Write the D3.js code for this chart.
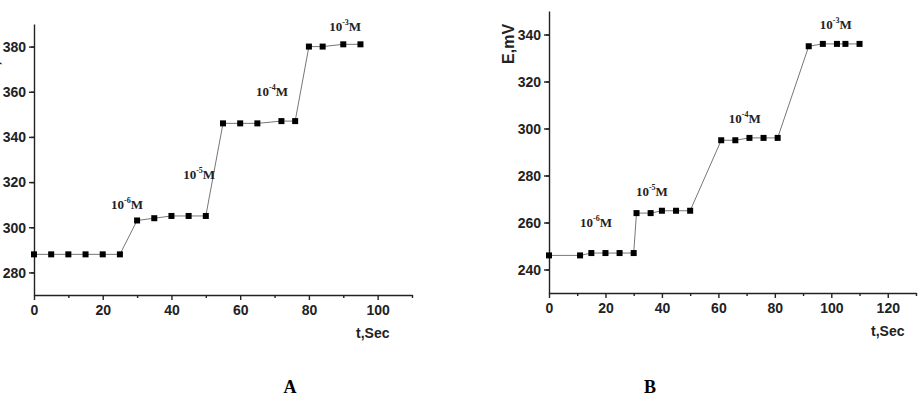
<!DOCTYPE html>
<html>
<head>
<meta charset="utf-8">
<script src="https://cdn.jsdelivr.net/npm/d3@7"></script>
<style>
  body { margin: 0; background: #fff; }
  svg { display: block; }
  .tick text { font-family: "Liberation Sans Narrow", "Arial Narrow", "Liberation Sans", Arial, sans-serif; font-weight: bold; font-size: 14px; fill: #222; }
  .axis-title { font-family: "Liberation Sans", Arial, sans-serif; font-weight: bold; font-size: 14px; fill: #222; }
  .axis-title.y { font-size: 16px; }
  .conc { font-family: "Liberation Serif", "Times New Roman", serif; font-weight: bold; font-size: 13px; fill: #222; }
  .panel-letter { font-family: "Liberation Serif", "Times New Roman", serif; font-weight: bold; font-size: 18px; fill: #000; }
</style>
</head>
<body>
<div id="chart"></div>
<script>
// Panel A data (time in s, potential in mV)
const timeA = [0, 5, 10, 15, 20, 25, 30, 35, 40, 45, 50, 55, 60, 65, 72, 76, 80, 84, 90, 95];
const potentialA = [288, 288, 288, 288, 288, 288, 303, 304, 305, 305, 305, 346, 346, 346, 347, 347, 380, 380, 381, 381];

// Panel B data
const timeB = [0, 11, 15, 20, 25, 30, 31, 36, 40, 45, 50, 61, 66, 71, 76, 81, 92, 97, 102, 105, 110];
const potentialB = [246, 246, 247, 247, 247, 247, 264, 264, 265, 265, 265, 295, 295, 296, 296, 296, 335, 336, 336, 336, 336];

// Concentration annotations: exponent, anchor time, anchor potential
const concExp = ["-6", "-5", "-4", "-3"];
const concTimeA = [22.4, 43.4, 64.6, 85.9];
const concPotA = [308, 321.5, 358, 387];
const concTimeB = [11, 30.8, 63.7, 95.9];
const concPotB = [258, 271.2, 302.4, 342.5];

const width = 918;
const height = 408;

const svg = d3.select("#chart")
    .append("svg")
    .attr("width", width)
    .attr("height", height);

function drawPanel(p) {
    const x = d3.scaleLinear().domain(p.xDomain).range(p.xRange);
    const y = d3.scaleLinear().domain(p.yDomain).range(p.yRange);
    const g = svg.append("g");

    // minor ticks first (no labels)
    g.append("g")
        .attr("transform", `translate(0,${p.yRange[0]})`)
        .call(d3.axisBottom(x).tickValues(d3.range(p.xDomain[0] + 10, p.xDomain[1] + 1, 20)).tickSize(3).tickFormat(""))
        .call(a => a.select(".domain").remove());
    g.append("g")
        .attr("transform", `translate(${p.xRange[0]},0)`)
        .call(d3.axisLeft(y).tickValues(d3.range(p.yDomain[0] + 10, p.yDomain[1] + 1, 20)).tickSize(3).tickFormat(""))
        .call(a => a.select(".domain").remove());

    // major axes
    const xAxis = g.append("g")
        .attr("transform", `translate(0,${p.yRange[0]})`)
        .call(d3.axisBottom(x).tickValues(d3.range(p.xDomain[0], p.xDomain[1] + 1, 20)).tickSize(5).tickSizeOuter(0).tickPadding(4));
    const yAxis = g.append("g")
        .attr("transform", `translate(${p.xRange[0]},0)`)
        .call(d3.axisLeft(y).tickValues(d3.range(p.yDomain[0] + 10, p.yDomain[1], 20)).tickSize(5).tickSizeOuter(0).tickPadding(3));
    g.selectAll(".domain, .tick line").attr("stroke", "#222").attr("stroke-width", 1.4);
    g.selectAll(".tick text").attr("dy", null);
    xAxis.selectAll(".tick text").attr("dy", "0.75em");
    yAxis.selectAll(".tick text").attr("dy", "0.35em");

    // axis titles
    g.append("text")
        .attr("class", "axis-title")
        .attr("x", p.xRange[0] + 322)
        .attr("y", p.yRange[0] + 43)
        .text("t,Sec");
    g.append("text")
        .attr("class", "axis-title y")
        .attr("text-anchor", "middle")
        .attr("transform", `translate(${p.xRange[0] - 35},${y(p.yTitleAt)}) rotate(-90)`)
        .text("E,mV");

    // connecting line
    const pts = p.t.map((t, i) => [t, p.e[i]]);
    g.append("path")
        .datum(pts)
        .attr("fill", "none")
        .attr("stroke", "#777")
        .attr("stroke-width", 1)
        .attr("d", d3.line().x(d => x(d[0])).y(d => y(d[1])));

    // square markers
    const s = 6;
    g.selectAll(".pt")
        .data(pts)
        .enter()
        .append("rect")
        .attr("class", "pt")
        .attr("x", d => x(d[0]) - s / 2)
        .attr("y", d => y(d[1]) - s / 2)
        .attr("width", s)
        .attr("height", s)
        .attr("fill", "#000");

    // concentration labels
    concExp.forEach((ex, i) => {
        const tx = g.append("text")
            .attr("class", "conc")
            .attr("x", x(p.ct[i]))
            .attr("y", y(p.ce[i]));
        tx.append("tspan").text("10");
        tx.append("tspan").attr("dy", -6).attr("font-size", "8px").text(ex);
        tx.append("tspan").attr("dy", 6).text("M");
    });

    g.append("text")
        .attr("class", "panel-letter")
        .attr("text-anchor", "middle")
        .attr("x", p.letterX)
        .attr("y", 393)
        .text(p.letter);
}

drawPanel({
    t: timeA, e: potentialA,
    xDomain: [0, 110], xRange: [34, 412],
    yDomain: [270, 390], yRange: [295, 24],
    yTitleAt: 375.6,
    ct: concTimeA, ce: concPotA,
    letter: "A", letterX: 290
});

drawPanel({
    t: timeB, e: potentialB,
    xDomain: [0, 130], xRange: [549, 916],
    yDomain: [230, 350], yRange: [293, 11],
    yTitleAt: 336,
    ct: concTimeB, ce: concPotB,
    letter: "B", letterX: 650
});
</script>
</body>
</html>
